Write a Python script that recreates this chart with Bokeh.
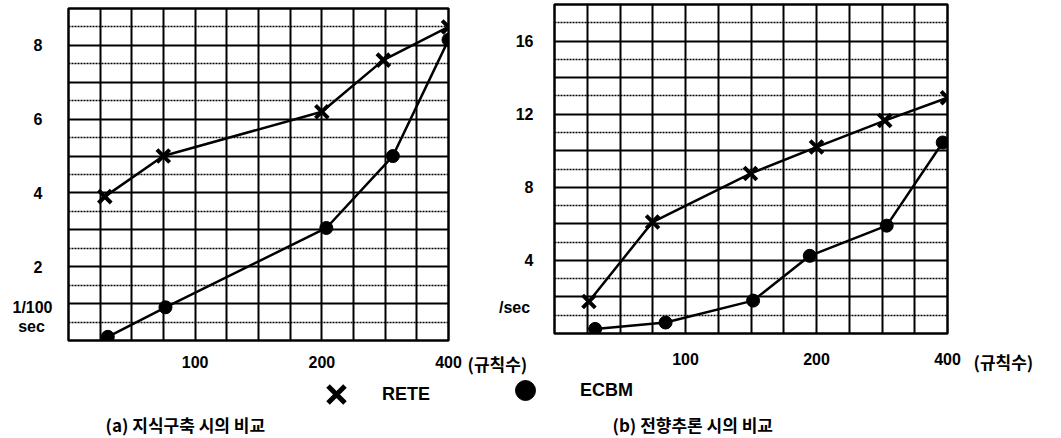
from bokeh.plotting import figure
from bokeh.models import (FixedTicker, PrintfTickFormatter, Label, Legend, LegendItem,
                          GridBox, Range1d)
from bokeh.embed import file_html
from bokeh.resources import INLINE

# ---------------- data ----------------
rule_ticks = [100, 200, 400]          # x tick labels (규칙수)
a_y_ticks = [2, 4, 6, 8]              # (a) 1/100 sec
b_y_ticks = [4, 8, 12, 16]            # (b) sec

a_rete_x = [61, 84, 200, 280, 400]
a_rete_y = [3.9, 5.0, 6.2, 7.6, 8.5]
a_ecbm_x = [62, 85, 205, 295, 400]
a_ecbm_y = [0.1, 0.9, 3.05, 5.0, 8.15]

b_rete_x = [60, 84, 141, 200, 287, 400]
b_rete_y = [1.75, 6.1, 8.75, 10.2, 11.65, 12.9]
b_ecbm_x = [62, 90, 143, 193, 290, 390]
b_ecbm_y = [0.25, 0.6, 1.8, 4.25, 5.9, 10.45]

# ---------------- styling ----------------
NUM_FONT = "Liberation Sans"
KR_FONT = "Noto Sans CJK KR"
W, H = 1061, 438
X_START, X_END = 50, 400
grid_cols = [X_START * 2 ** (k / 4) for k in range(13)]


def make_panel(width, y_end, y_step, y_ticks, borders, x_standoff, y_standoff):
    left, right, top, bottom = borders
    p = figure(width=width, height=H, x_axis_type="log",
               x_range=(X_START, X_END), y_range=(0, y_end),
               output_backend="svg", toolbar_location=None, title=None,
               frame_align=False,
               min_border_left=left, min_border_right=right,
               min_border_top=top, min_border_bottom=bottom)
    p.background_fill_color = "white"
    p.border_fill_color = "white"
    p.outline_line_color = "black"
    p.outline_line_width = 2.5

    # graph paper
    p.xgrid.ticker = FixedTicker(ticks=grid_cols)
    p.xgrid.grid_line_color = "black"
    p.xgrid.grid_line_width = 2
    p.xgrid.grid_line_alpha = 1
    majors = [i * y_step for i in range(int(round(y_end / y_step)) + 1)]
    minors = [m + y_step / 2 for m in majors[:-1]]
    p.ygrid.ticker = FixedTicker(ticks=majors, minor_ticks=minors)
    p.ygrid.grid_line_color = "black"
    p.ygrid.grid_line_width = 2
    p.ygrid.grid_line_alpha = 1
    p.ygrid.minor_grid_line_color = "black"
    p.ygrid.minor_grid_line_width = 1.5
    p.ygrid.minor_grid_line_dash = "2 1"

    for ax in (p.xaxis[0], p.yaxis[0]):
        ax.axis_line_color = None
        ax.major_tick_line_color = None
        ax.minor_tick_line_color = None
        ax.major_tick_out = 0
        ax.major_tick_in = 0
        ax.minor_tick_out = 0
        ax.major_label_text_font = NUM_FONT
        ax.major_label_text_font_style = "bold"
        ax.major_label_text_font_size = "16px"
        ax.major_label_text_color = "black"
    p.xaxis[0].ticker = FixedTicker(ticks=rule_ticks)
    p.xaxis[0].formatter = PrintfTickFormatter(format="%d")
    p.xaxis[0].major_label_standoff = x_standoff
    p.yaxis[0].ticker = FixedTicker(ticks=y_ticks)
    p.yaxis[0].formatter = PrintfTickFormatter(format="%d")
    p.yaxis[0].major_label_standoff = y_standoff
    return p


def add_series(p, xs, ys, marker):
    p.line(xs, ys, line_color="black", line_width=2.5)
    if marker == "x":
        return p.scatter(xs, ys, marker="x", size=18, line_color="black", line_width=4)
    return p.scatter(xs, ys, marker="circle", size=13, fill_color="black", line_color="black")


# ---------------- panel (a) ----------------
pa = make_panel(466, 9, 1, a_y_ticks, (68, 18, 8, 98), 15, 26)
add_series(pa, a_ecbm_x, a_ecbm_y, "circle")
add_series(pa, a_rete_x, a_rete_y, "x")

# ---------------- panel (b) ----------------
pb = make_panel(595, 18, 2, b_y_ticks, (88, 114, 4, 105), 19, 21)
add_series(pb, b_ecbm_x, b_ecbm_y, "circle")
add_series(pb, b_rete_x, b_rete_y, "x")

# ---------------- transparent overlay for free texts and the legend ----------------
ov = figure(width=W, height=H, x_range=Range1d(0, W), y_range=Range1d(H, 0),
            output_backend="svg", toolbar_location=None, title=None, frame_align=False,
            x_axis_location=None, y_axis_location=None, min_border=0)
ov.grid.visible = False
ov.outline_line_color = None
ov.background_fill_alpha = 0
ov.border_fill_alpha = 0


def label(x, y, text, font, size, align="left"):
    ov.add_layout(Label(x=x, y=y, text=text, text_font=font, text_font_style="bold",
                        text_font_size=size, text_color="black", text_align=align,
                        text_baseline="middle"))


label(32, 307, "1/100", NUM_FONT, "16px", "center")
label(31, 326, "sec", NUM_FONT, "16px", "center")
label(514, 307, "/sec", NUM_FONT, "16px", "center")
label(467, 363, "(규칙수)", KR_FONT, "17px")
label(973, 361, "(규칙수)", KR_FONT, "17px")
label(105, 424, "(a) 지식구축 시의 비교", KR_FONT, "17px")
label(612, 424, "(b) 전향추론 시의 비교", KR_FONT, "17px")

nan = float("nan")
key_x = ov.scatter(x=[nan], y=[nan], marker="x", line_color="black", line_width=5)
key_o = ov.scatter(x=[nan], y=[nan], marker="circle", fill_color="black", line_color="black")
common = dict(orientation="horizontal", padding=0, margin=0, spacing=0,
              border_line_color=None, background_fill_alpha=0,
              label_text_font=NUM_FONT, label_text_font_style="bold",
              label_text_font_size="18px", label_text_color="black")
ov.add_layout(Legend(items=[LegendItem(label="RETE", renderers=[key_x])], location=(306, 14),
                     glyph_width=60, glyph_height=60, label_standoff=16, **common))
ov.add_layout(Legend(items=[LegendItem(label="ECBM", renderers=[key_o])], location=(500, 23),
                     glyph_width=50, glyph_height=50, label_standoff=30, **common))

layout = GridBox(children=[(pa, 0, 0), (pb, 0, 1), (ov, 0, 0, 1, 2)])
open("out.html", "w").write(file_html(layout, INLINE))
